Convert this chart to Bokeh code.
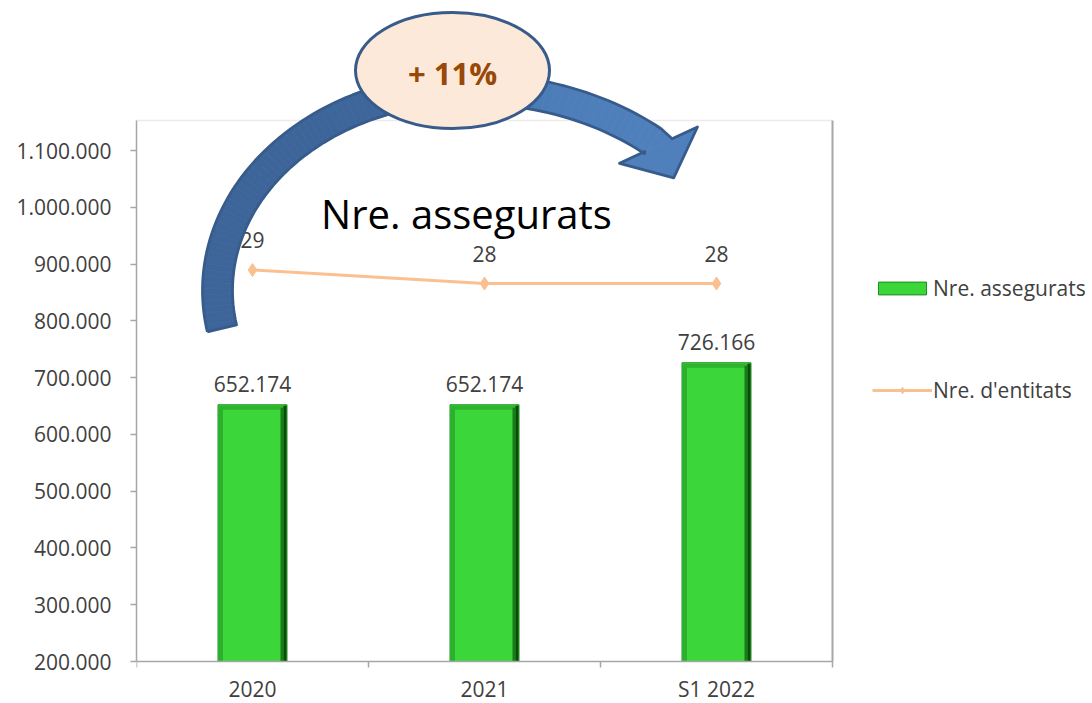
import numpy as np
from bokeh.plotting import figure
from bokeh.models import Range1d, LinearAxis, FixedTicker, Legend, LegendItem
from bokeh.core.properties import value
from bokeh.embed import file_html
from bokeh.resources import INLINE

# ---------------- data ----------------
categories = ["2020", "2021", "S1 2022"]
assegurats = [652174, 652174, 726166]
entitats = [29, 28, 28]
y_ticks = [200000, 300000, 400000, 500000, 600000, 700000, 800000, 900000, 1000000, 1100000]
chart_title = "Nre. assegurats"
growth_label = "+ 11%"
name_assegurats = "Nre. assegurats"
name_entitats = "Nre. d'entitats"


def fmt(v):
    return f"{v:,}".replace(",", ".")


# ---------------- geometry (page pixels) ----------------
W, H = 1092, 703
PAGE = 0
BORDER_LEFT = 136
FRAME_LEFT = PAGE + BORDER_LEFT
FRAME_TOP = PAGE
FRAME_BOTTOM = PAGE + H
FRAME_RIGHT = PAGE + W
CAT_PX = 232.0
Y_MIN = 200000
Y_MIN_PAGE = 661.0
PX_PER_VAL = 511.0 / 900000.0
Y_TOP_PAGE = 120.0
ENT_REF, ENT_REF_PAGE, ENT_PX = 28, 283.0, 13.5


def xd(px):
    return (np.asarray(px, dtype=float) - FRAME_LEFT) / CAT_PX


def yd(py):
    return Y_MIN + (Y_MIN_PAGE - np.asarray(py, dtype=float)) / PX_PER_VAL


Y_TOP = float(yd(Y_TOP_PAGE))
N = len(categories)
xc = np.arange(N) + 0.5

FONT = "Open Sans"
TXT = "#404040"
AXC = "#A6A6A6"

p = figure(width=W, height=H, output_backend="svg", toolbar_location=None,
           x_range=Range1d(0, float(xd(FRAME_RIGHT))),
           y_range=Range1d(float(yd(FRAME_BOTTOM)), float(yd(FRAME_TOP))),
           x_axis_location=None, y_axis_location=None,
           min_border_left=BORDER_LEFT, min_border_right=0, min_border_top=0, min_border_bottom=0,
           outline_line_color=None, background_fill_color="white", border_fill_color="white")
p.xgrid.visible = False
p.ygrid.visible = False
p.extra_y_ranges = {"ent": Range1d(ENT_REF - (FRAME_BOTTOM - ENT_REF_PAGE) / ENT_PX,
                                   ENT_REF + (ENT_REF_PAGE - FRAME_TOP) / ENT_PX)}

# ---------------- axes ----------------
yaxis = LinearAxis(bounds=(Y_MIN, Y_TOP), ticker=FixedTicker(ticks=y_ticks),
                   major_label_overrides={float(t): fmt(t) for t in y_ticks},
                   axis_line_color=AXC, axis_line_width=1.5,
                   major_tick_line_color=AXC, major_tick_line_width=1.5,
                   major_tick_out=6, major_tick_in=0, minor_tick_out=0, minor_tick_in=0,
                   major_label_standoff=19,
                   major_label_text_font=FONT, major_label_text_font_size="21px",
                   major_label_text_color=TXT)
p.add_layout(yaxis, "left")

xaxis = LinearAxis(fixed_location=Y_MIN, bounds=(0, N),
                   ticker=FixedTicker(ticks=list(xc), minor_ticks=list(range(N + 1))),
                   major_label_overrides={float(x): c for x, c in zip(xc, categories)},
                   axis_line_color=AXC, axis_line_width=1.5,
                   major_tick_out=0, major_tick_in=0,
                   minor_tick_line_color=AXC, minor_tick_line_width=1.5,
                   minor_tick_out=6, minor_tick_in=0,
                   major_label_standoff=7,
                   major_label_text_font=FONT, major_label_text_font_size="21px",
                   major_label_text_color=TXT)
p.add_layout(xaxis, "below")

# plot-area border (top faint, right grey)
p.segment(x0=[0], y0=[Y_TOP], x1=[N], y1=[Y_TOP], line_color="#EBEBEB", line_width=1.5)
p.segment(x0=[N], y0=[Y_MIN], x1=[N], y1=[Y_TOP], line_color=AXC, line_width=2)

# ---------------- bars ----------------
vals = np.array(assegurats, dtype=float)
BW = 69 / CAT_PX
pxx = 1 / CAT_PX
pxv = 1 / PX_PER_VAL
bar_r = p.vbar(x=xc, width=BW, top=vals, bottom=Y_MIN,
               fill_color="#3AD63A", line_color="#1E8E1E", line_width=1)
p.vbar(x=xc - BW / 2 + 3 * pxx, width=4 * pxx, top=vals - 2 * pxv, bottom=Y_MIN,
       fill_color="#2DB02D", line_color=None)
p.vbar(x=xc, width=BW - 3 * pxx, top=vals - 1 * pxv, bottom=vals - 5 * pxv,
       fill_color="#2CB42C", line_color=None)
p.vbar(x=xc + BW / 2 - 5 * pxx, width=3 * pxx, top=vals - 3 * pxv, bottom=Y_MIN,
       fill_color="#187C18", line_color=None)
p.vbar(x=xc + BW / 2 - 2 * pxx, width=3 * pxx, top=vals - 1 * pxv, bottom=Y_MIN,
       fill_color="#0A4A0A", line_color=None)
p.text(x=xc, y=vals, text=[fmt(v) for v in assegurats], y_offset=-21,
       text_align="center", text_baseline="alphabetic",
       text_font=value(FONT), text_font_size="21px", text_color=TXT)

# ---------------- line (secondary scale) ----------------
line_r = p.line(x=xc, y=entitats, y_range_name="ent", line_color="#FAC090", line_width=3)
pts_r = p.scatter(x=xc, y=entitats, y_range_name="ent", marker="diamond", size=13,
                  fill_color="#FAC090", line_color="#FAC090")
p.text(x=xc, y=entitats, y_range_name="ent", text=[str(v) for v in entitats], y_offset=-30,
       text_align="center", text_baseline="alphabetic",
       text_font=value(FONT), text_font_size="21px", text_color=TXT)

# ---------------- title ----------------
p.text(x=[float(xd(466))], y=[float(yd(213))], text=[chart_title],
       text_align="center", text_baseline="alphabetic",
       text_font=value(FONT), text_font_size="40px", text_color="black")

# ---------------- curved arrow (decoration, page pixels) ----------------
cx, cy, bY = 467.0, 290.0, 202.0
th = np.linspace(3.33, 0.803, 90)
aX = np.where(np.cos(th) < 0, 250.0, 275.0)
mx = cx + aX * np.cos(th)
my = cy - bY * np.sin(th)
tx = aX * np.sin(th)
ty = bY * np.cos(th)
nn = np.hypot(tx, ty)
tx, ty = tx / nn, ty / nn
hw = 15.0
ox, oy = mx + hw * ty, my - hw * tx
ix, iy = mx - hw * ty, my + hw * tx
E = np.array([mx[-1], my[-1]])
ang = np.deg2rad(65)
Hd = np.array([np.cos(ang), np.sin(ang)])
Nh = np.array([Hd[1], -Hd[0]])
o_notch = E + hw * Nh
i_notch = E - hw * Nh
o_corner = E + 43 * Nh
i_corner = E - 43 * Nh
tip = E + 36 * Hd
ox[-1], oy[-1] = o_notch
ix[-1], iy[-1] = i_notch


def mix(c1, c2, f):
    a = np.array([int(c1[i:i + 2], 16) for i in (1, 3, 5)], dtype=float)
    b = np.array([int(c2[i:i + 2], 16) for i in (1, 3, 5)], dtype=float)
    c = a + (b - a) * f
    return "#%02x%02x%02x" % tuple(int(round(v)) for v in c)


dark, light = "#3D6599", "#4F80BC"
xs, ys, cols = [], [], []
for k in range(len(th) - 1):
    qx = [ox[k], ox[k + 1], ix[k + 1], ix[k]]
    qy = [oy[k], oy[k + 1], iy[k + 1], iy[k]]
    xs.append(list(xd(qx)))
    ys.append(list(yd(qy)))
    f = 1 / (1 + np.exp((th[k] - 1.55) / 0.15))
    cols.append(mix(dark, light, f))
p.patches(xs=xs, ys=ys, fill_color=cols, line_color=cols, line_width=0.8)
hx = [o_notch[0], o_corner[0], tip[0], i_corner[0], i_notch[0]]
hy = [o_notch[1], o_corner[1], tip[1], i_corner[1], i_notch[1]]
p.patch(x=xd(hx), y=yd(hy), fill_color=light, line_color=light, line_width=0.8)
outline_x = list(ox[:-1]) + hx + list(ix[:-1][::-1]) + [ox[0]]
outline_y = list(oy[:-1]) + hy + list(iy[:-1][::-1]) + [oy[0]]
p.line(x=xd(outline_x), y=yd(outline_y), line_color="#375C8C", line_width=2.8,
       line_join="round")

# ---------------- ellipse with growth ----------------
p.ellipse(x=[float(xd(452))], y=[float(yd(70))], width=194, height=116,
          width_units="screen", height_units="screen",
          fill_color="#FDE9D9", line_color="#375C8C", line_width=3)
p.text(x=[float(xd(452))], y=[float(yd(72))], text=[growth_label],
       text_align="center", text_baseline="alphabetic",
       text_font=value(FONT), text_font_size="31px", text_font_style="bold",
       text_color="#984807")

# ---------------- legend ----------------
legend = Legend(items=[LegendItem(label=name_assegurats, renderers=[bar_r]),
                       LegendItem(label=name_entitats, renderers=[line_r, pts_r])],
                location=(736, 299), glyph_width=60, glyph_height=16, spacing=74,
                padding=0, margin=0, label_standoff=1,
                border_line_color=None, background_fill_alpha=0,
                label_text_font=FONT, label_text_font_size="21px", label_text_color=TXT)
p.add_layout(legend)

open("out.html", "w").write(file_html(p, INLINE))
